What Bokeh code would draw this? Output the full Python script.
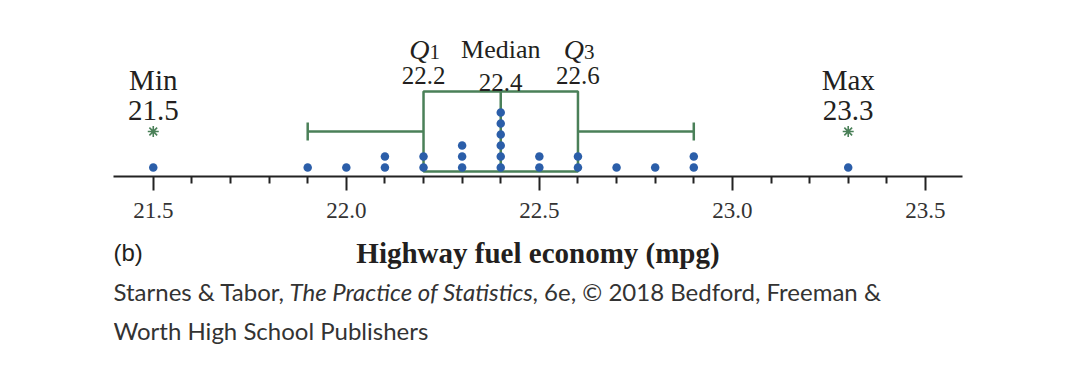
from bokeh.plotting import figure
from bokeh.layouts import column
from bokeh.models import Range1d, LinearAxis, FixedTicker, PrintfTickFormatter
from bokeh.core.properties import value
from bokeh.embed import file_html
from bokeh.resources import INLINE

# ---- data ----
mpg_values = [21.5, 21.9, 22.0, 22.1, 22.2, 22.3, 22.4, 22.5, 22.6, 22.7, 22.8, 22.9, 23.3]
mpg_counts = [1, 1, 1, 2, 2, 3, 6, 2, 2, 1, 1, 2, 1]
stat_min, stat_q1, stat_median, stat_q3, stat_max = 21.5, 22.2, 22.4, 22.6, 23.3
whisker_low, whisker_high = 21.9, 22.9
outliers = [21.5, 23.3]
major_ticks = [21.5, 22.0, 22.5, 23.0, 23.5]
minor_ticks = [21.6, 21.7, 21.8, 21.9, 22.1, 22.2, 22.3, 22.4, 22.6, 22.7, 22.8, 22.9,
               23.1, 23.2, 23.3, 23.4]
x_title = "Highway fuel economy (mpg)"
panel_tag = "(b)"
caption_parts = ["Starnes & Tabor, ", "The Practice of Statistics",
                 ", 6e, \u00a9 2018 Bedford, Freeman &"]
caption_line2 = "Worth High School Publishers"

# ---- style ----
BLUE = "#2b5ea9"
GREEN = "#4a8058"
INK = "#231f20"
SERIF = "Liberation Serif"
W = 1086
X0, X1 = 21.397, 23.596
FRAME_L, FRAME_W, FRAME_T, FRAME_H = 113, 849, 8, 168
TOP_H = 238
TXT = 8  # baseline correction for text glyphs

x_range = Range1d(X0, X1)

p = figure(width=W, height=TOP_H, output_backend="svg", toolbar_location=None,
           x_range=x_range, y_range=Range1d(0, FRAME_H),
           x_axis_location=None, y_axis_location=None,
           min_border_left=FRAME_L, min_border_right=W - FRAME_L - FRAME_W,
           min_border_top=FRAME_T, min_border_bottom=TOP_H - FRAME_T - FRAME_H)
p.outline_line_color = None
p.grid.visible = False

# axis
ax = LinearAxis(ticker=FixedTicker(ticks=major_ticks, minor_ticks=minor_ticks),
                formatter=PrintfTickFormatter(format="%.1f"))
ax.axis_line_color = "#222222"
ax.axis_line_width = 2
ax.major_tick_line_color = "#222222"
ax.major_tick_line_width = 2
ax.major_tick_in = 0
ax.major_tick_out = 14
ax.minor_tick_line_color = "#222222"
ax.minor_tick_line_width = 2
ax.minor_tick_in = 0
ax.minor_tick_out = 7
ax.major_label_text_font = SERIF
ax.major_label_text_font_size = "23px"
ax.major_label_text_color = "#333333"
ax.major_label_standoff = 12
p.add_layout(ax, "below")

# box plot (y in pixels above the axis)
BOX_BOTTOM, BOX_TOP, WHISK_Y, CAP_HALF = 5, 85, 45, 9
p.quad(left=[stat_q1], right=[stat_q3], bottom=[BOX_BOTTOM], top=[BOX_TOP],
       fill_color=None, line_color=GREEN, line_width=2.5)
p.segment(x0=[stat_median], y0=[BOX_BOTTOM], x1=[stat_median], y1=[BOX_TOP],
          line_color=GREEN, line_width=2.5)
p.segment(x0=[whisker_low, stat_q3], y0=[WHISK_Y, WHISK_Y], x1=[stat_q1, whisker_high],
          y1=[WHISK_Y, WHISK_Y], line_color=GREEN, line_width=2.5)
p.segment(x0=[whisker_low, whisker_high], y0=[WHISK_Y - CAP_HALF] * 2,
          x1=[whisker_low, whisker_high], y1=[WHISK_Y + CAP_HALF] * 2,
          line_color=GREEN, line_width=2.5)
p.scatter(x=outliers, y=[WHISK_Y] * len(outliers), marker="asterisk", size=11,
          line_color=GREEN, line_width=1.6)

# dots
DOT_BASE, DOT_STEP = 9, 11
dx, dy = [], []
for v, c in zip(mpg_values, mpg_counts):
    for k in range(c):
        dx.append(v)
        dy.append(DOT_BASE + DOT_STEP * k)
p.scatter(x=dx, y=dy, size=8.5, fill_color=BLUE, line_color=None)

# labels for min / max
p.text(x=[stat_min, stat_max], y=[89 + TXT] * 2, text=["Min", "Max"], text_font=value(SERIF),
       text_font_size="29px", text_align="center", text_baseline="alphabetic", text_color=INK)
p.text(x=[stat_min, stat_max], y=[58 + TXT] * 2, text=[f"{stat_min:.1f}", f"{stat_max:.1f}"],
       text_font=value(SERIF), text_font_size="29px", text_align="center",
       text_baseline="alphabetic", text_color=INK)

# Q1 / median / Q3
p.text(x=[stat_q1, stat_q3], y=[119 + TXT] * 2, text=["Q", "Q"], text_font=value(SERIF),
       text_font_style="italic", text_font_size="28px", text_align="right",
       text_baseline="alphabetic", text_color=INK, x_offset=6)
p.text(x=[stat_q1, stat_q3], y=[117 + TXT] * 2, text=["1", "3"], text_font=value(SERIF),
       text_font_size="21px", text_align="left", text_baseline="alphabetic",
       text_color=INK, x_offset=6)
p.text(x=[stat_median], y=[119 + TXT], text=["Median"], text_font=value(SERIF),
       text_font_size="26px", text_align="center", text_baseline="alphabetic", text_color=INK)
p.text(x=[stat_q1, stat_median, stat_q3], y=[93 + TXT, 86 + TXT, 93 + TXT],
       text=[f"{stat_q1:.1f}", f"{stat_median:.1f}", f"{stat_q3:.1f}"],
       text_font=value(SERIF), text_font_size="25px", text_align="center",
       text_baseline="alphabetic", text_color=INK)

# ---- lower panel: axis title, panel tag and source caption ----
# same frame geometry as the upper panel; y in page pixels (downwards)
BOT_H = 374 - TOP_H
q = figure(width=W, height=BOT_H, output_backend="svg", toolbar_location=None,
           x_range=x_range, y_range=Range1d(374, TOP_H),
           x_axis_location=None, y_axis_location=None,
           min_border_left=FRAME_L, min_border_right=W - FRAME_L - FRAME_W,
           min_border_top=0, min_border_bottom=0)
q.outline_line_color = None
q.grid.visible = False


def px_x(px):
    return X0 + (px - FRAME_L) * (X1 - X0) / FRAME_W


q.text(x=[(X0 + X1) / 2], y=[260 - TXT], text=[x_title], text_font=value(SERIF),
       text_font_style="bold", text_font_size="29px", text_align="center",
       text_baseline="alphabetic", text_color=INK)
q.text(x=[X0], y=[260 - TXT], text=[panel_tag], text_font=value("Liberation Sans"),
       text_font_size="24px", text_align="left", text_baseline="alphabetic", text_color=INK)

CAP_FONT, CAP_SIZE, CAP_COLOR = "Lato", "24px", "#333333"
q.text(x=[X0, X0], y=[299 - TXT, 338 - TXT], text=[caption_parts[0], caption_line2],
       text_font=value(CAP_FONT), text_font_size=CAP_SIZE, text_align="left",
       text_baseline="alphabetic", text_color=CAP_COLOR)
q.text(x=[px_x(289)], y=[299 - TXT], text=[caption_parts[1]], text_font=value(CAP_FONT),
       text_font_style="italic", text_font_size=CAP_SIZE, text_align="left",
       text_baseline="alphabetic", text_color=CAP_COLOR)
q.text(x=[px_x(532)], y=[299 - TXT], text=[caption_parts[2]], text_font=value(CAP_FONT),
       text_font_size=CAP_SIZE, text_align="left", text_baseline="alphabetic",
       text_color=CAP_COLOR)

open("out.html", "w").write(file_html(column(p, q, spacing=0), INLINE))
